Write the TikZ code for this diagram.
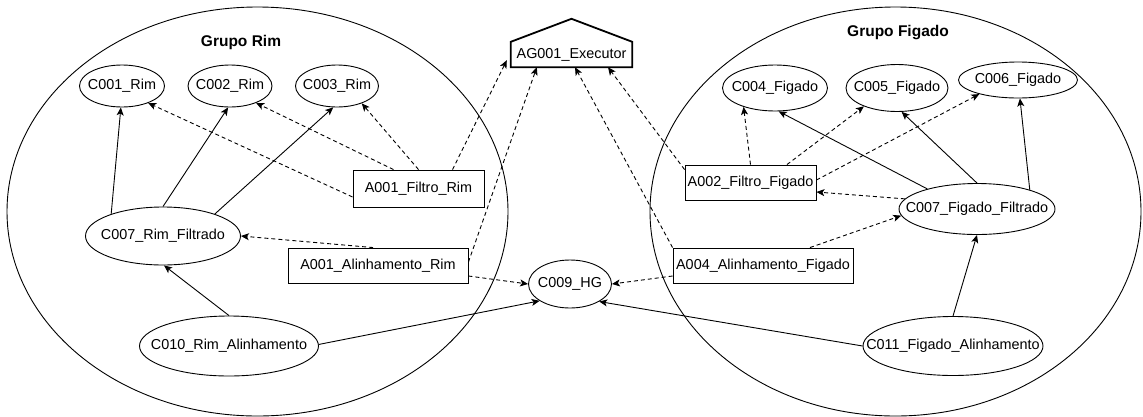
\documentclass[tikz,border=0pt]{standalone}
\usepackage{fontspec}
\setmainfont{Liberation Sans}
\usetikzlibrary{shapes.geometric,arrows.meta}
% zero-width label so that the ellipse size comes from minimum width/height only
\newcommand{\flatlabel}[1]{\makebox[0pt]{#1}}
\begin{document}
\begin{tikzpicture}[x=1pt,y=-1pt,
  every node/.style={font=\fontsize{14.4}{16}\selectfont, inner sep=0pt},
  conc/.style={ellipse, draw, line width=0.9pt},
  act/.style={rectangle, draw, line width=0.9pt},
  group/.style={ellipse, draw, line width=0.9pt},
  title/.style={font=\fontsize{15.5}{18}\selectfont\bfseries},
  link/.style={line width=0.9pt, -{Stealth[length=8pt,width=7pt,inset=2pt]}},
  uses/.style={link, dash pattern=on 4pt off 3pt},
]
\useasboundingbox (0,0) rectangle (1143,416);

% group containers
\node[group, minimum width=501pt, minimum height=409pt] (grim) at (257.5,211.5) {};
\node[group, minimum width=491pt, minimum height=409pt] (gfig) at (895.5,211.5) {};
\node[title] (trim) at (241,42) {Grupo Rim};
\node[title] (tfig) at (898,33) {Grupo Figado};

% agent
\node (ag) [minimum width=121pt, minimum height=25pt] at (571.5,54.5) {AG001\_Executor};
\draw[line width=1.8pt, line join=miter] (ag.south west) -- (ag.north west) -- ([yshift=23pt]ag.north) -- (ag.north east) -- (ag.south east) -- cycle;

% concepts
\node[conc, minimum width=85pt, minimum height=42pt] (c001) at (122,86) {\flatlabel{C001\_Rim}};
\node[conc, minimum width=84pt, minimum height=42pt] (c002) at (230,86) {\flatlabel{C002\_Rim}};
\node[conc, minimum width=83pt, minimum height=42pt] (c003) at (337,86) {\flatlabel{C003\_Rim}};
\node[conc, minimum width=155pt, minimum height=58pt] (c007r) at (163,236) {\flatlabel{C007\_Rim\_Filtrado}};
\node[conc, minimum width=179pt, minimum height=60pt] (c010) at (229,346) {\flatlabel{C010\_Rim\_Alinhamento}};
\node[conc, minimum width=83pt, minimum height=48pt] (c009) at (570,284) {\flatlabel{C009\_HG}};
\node[conc, minimum width=105pt, minimum height=46pt] (c004) at (775,88) {\flatlabel{C004\_Figado}};
\node[conc, minimum width=102pt, minimum height=47pt] (c005) at (897,88) {\flatlabel{C005\_Figado}};
\node[conc, minimum width=119pt, minimum height=36pt] (c006) at (1018,80) {\flatlabel{C006\_Figado}};
\node[conc, minimum width=156pt, minimum height=51pt] (c007f) at (977,209) {\flatlabel{C007\_Figado\_Filtrado}};
\node[conc, minimum width=180pt, minimum height=59pt] (c011) at (953,346) {\flatlabel{C011\_Figado\_Alinhamento}};

% actions
\node[act, minimum width=131pt, minimum height=37pt] (a001f) at (418.5,188.5) {A001\_Filtro\_Rim};
\node[act, minimum width=180pt, minimum height=35pt] (a001a) at (378,265.5) {A001\_Alinhamento\_Rim};
\node[act, minimum width=131pt, minimum height=35pt] (a002) at (750.5,182.5) {\flatlabel{A002\_Filtro\_Figado}};
\node[act, minimum width=180pt, minimum height=35pt] (a004) at (763,265.5) {\flatlabel{A004\_Alinhamento\_Figado}};

% derivations
\draw[link] (c007r.157) -- (c001.267);
\draw[link] (c007r.90) -- (c002.265);
\draw[link] (c007r.23) -- (c003.260);
\draw[link] (c010.90) -- (c007r.272);
\draw[link] (c010.1) -- (c009.209);
\draw[link] (c011.180) -- (c009.329);
\draw[link] (c011.90) -- (c007f.270);
\draw[link] (c007f.158) -- (c004.279);
\draw[link] (c007f.90) -- (c005.281);
\draw[link] (c007f.20) -- (c006.276);

% uses
\draw[uses] ([yshift=-8.5pt]a001f.west) -- (c001.327);
\draw[uses] ([xshift=-25pt]a001f.north) -- (c002.327);
\draw[uses] (a001f.north) -- (c003.325);
\draw[uses] ([xshift=34pt]a001f.north) -- ([xshift=-4pt,yshift=7pt]ag.south west);
\draw[uses] ([yshift=3.5pt]a001a.east) -- ([xshift=26pt]ag.south west);
\draw[uses] ([xshift=-5pt]a001a.north) -- (c007r.0);
\draw[uses] ([yshift=-10.5pt]a001a.east) -- (c009.180);
\draw[uses] ([yshift=-10.5pt]a004.west) -- (c009.0);
\draw[uses] (a004.north west) -- ([xshift=3.5pt]ag.south);
\draw[uses] ([yshift=-5pt]a002.north west) -- ([xshift=36.5pt]ag.south);
\draw[uses] (a002.north) -- (c004.211);
\draw[uses] ([xshift=36.5pt]a002.north) -- (c005.209);
\draw[uses] ([yshift=2.5pt]a002.east) -- (c006.200);
\draw[uses] (c007f.172) -- ([yshift=-9.5pt]a002.east);
\draw[uses] ([xshift=47pt]a004.north) -- (c007f.185);
\end{tikzpicture}
\end{document}
